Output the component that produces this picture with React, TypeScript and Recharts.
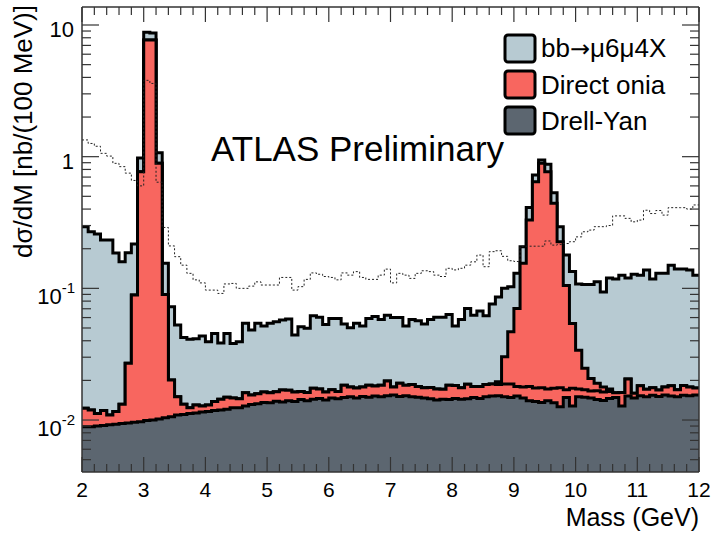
import React from "react";
import { ComposedChart, Area, Line, XAxis, YAxis } from "recharts";

// 100 MeV bins from 2.0 to 12.0 GeV, values in nb per bin
const binStart = 2.0;
const binWidth = 0.1;

const drellYan = [
  0.0089, 0.0089, 0.009, 0.0091, 0.0092, 0.0093, 0.0094, 0.0095, 0.0096, 0.0097,
  0.0099, 0.01, 0.0102, 0.0104, 0.0106, 0.0109, 0.011, 0.0112, 0.0113, 0.0115,
  0.0116, 0.0118, 0.0119, 0.0121, 0.0124, 0.0124, 0.0128, 0.0131, 0.0133, 0.0136,
  0.0135, 0.0139, 0.0137, 0.014, 0.0138, 0.0143, 0.014, 0.0144, 0.0146, 0.0142,
  0.0147, 0.0145, 0.0148, 0.015, 0.0147, 0.0151, 0.0149, 0.0152, 0.015, 0.0153,
  0.0155, 0.0151, 0.0153, 0.015, 0.0149, 0.0147, 0.0145, 0.0142, 0.0144, 0.0143,
  0.0146, 0.0144, 0.0145, 0.0148, 0.0146, 0.015, 0.0152, 0.0153, 0.015, 0.0148,
  0.0152, 0.0147, 0.014, 0.0138, 0.0136, 0.014, 0.0135, 0.0126, 0.0148, 0.0128,
  0.015, 0.0149, 0.0147, 0.0143, 0.0141, 0.0146, 0.0148, 0.0128, 0.0152, 0.0147,
  0.0153, 0.015, 0.0154, 0.0151, 0.0155, 0.0152, 0.015, 0.0154, 0.0153, 0.0155,
];

const jpsi = [
  0.0034, 0.003, 0.0022, 0.0027, 0.0017, 0.0023, 0.0038, 0.0175, 0.0794, 0.76,
  7.69, 7.69, 0.88, 0.0796, 0.0095, 0.0041, 0.0022, 0.0012, 0.0017, 0.0013,
  0.0014, 0.002, 0.0025, 0.0028, 0.0023, 0.0021, 0.0033, 0.0024, 0.0025, 0.0027,
  0.0026, 0.0025, 0.0032, 0.0028, 0.0025, 0.0022, 0.0022, 0.003, 0.0026, 0.0021,
  0.0023, 0.002, 0.0036, 0.0028, 0.0028, 0.0027, 0.0035, 0.0029, 0.0034, 0.0045,
  0.0023, 0.0039, 0.0031, 0.0036, 0.0031, 0.0029, 0.0032, 0.003, 0.0027, 0.0041,
  0.0037, 0.0032, 0.0042, 0.0032, 0.0034, 0.0036, 0.0036, 0.0033, 0.0038, 0.004,
  0.0028, 0.0031, 0.004, 0.0037, 0.004, 0.0032, 0.0039, 0.005, 0.0022, 0.0046,
  0.0022, 0.0021, 0.0019, 0.0024, 0.0022, 0.0019, 0.0013, 0.0034, 0.0053, 0.0013,
  0.0029, 0.0021, 0.0022, 0.0018, 0.0023, 0.003, 0.002, 0.0029, 0.0025, 0.002,
];

const upsilon = [
  0, 0, 0, 0, 0, 0, 0, 0, 0, 0,
  0, 0, 0, 0, 0, 0, 0, 0, 0, 0,
  0, 0, 0, 0, 0, 0, 0, 0, 0, 0,
  0, 0, 0, 0, 0, 0, 0, 0, 0, 0,
  0, 0, 0, 0, 0, 0, 0, 0, 0, 0,
  0, 0, 0, 0, 0, 0, 0, 0, 0, 0,
  0, 0, 0, 0, 0, 0, 0, 0.0009, 0.0115, 0.0281,
  0.0524, 0.137, 0.312, 0.628, 0.872, 0.751, 0.425, 0.208, 0.088, 0.0368,
  0.0167, 0.0077, 0.0041, 0.0023, 0.0015, 0.0007, 0, 0, 0, 0,
  0, 0, 0, 0, 0, 0, 0, 0, 0, 0,
];

const bbToMuMu = [
  0.282, 0.257, 0.247, 0.221, 0.222, 0.174, 0.146, 0.159, 0.128, 0.206,
  1.1, 1.0, 0.18, 0.065, 0.0524, 0.0376, 0.0292, 0.0286, 0.0285, 0.0306,
  0.0263, 0.0317, 0.0241, 0.0306, 0.0235, 0.0248, 0.0382, 0.0327, 0.0385, 0.0354,
  0.0382, 0.0394, 0.0406, 0.0417, 0.028, 0.0346, 0.0335, 0.0446, 0.0431, 0.0369,
  0.042, 0.0425, 0.0351, 0.0324, 0.0368, 0.0339, 0.0406, 0.0429, 0.0396, 0.0428,
  0.0422, 0.041, 0.0333, 0.0394, 0.0388, 0.0359, 0.0403, 0.0431, 0.0432, 0.045,
  0.0334, 0.0404, 0.0517, 0.0446, 0.0492, 0.0434, 0.0571, 0.0665, 0.0697, 0.0561,
  0.0596, 0.052, 0.082, 0.08, 0.052, 0.106, 0.09, 0.068, 0.074, 0.0798,
  0.0741, 0.0823, 0.0863, 0.093, 0.0762, 0.1028, 0.1019, 0.1098, 0.0995, 0.112,
  0.1078, 0.1209, 0.1004, 0.1131, 0.1122, 0.1318, 0.123, 0.1217, 0.1202, 0.1085,
];

// unlabelled dotted histogram
const dottedRef = [
  1.34, 1.26, 1.2, 1.06, 1.01, 0.89, 0.84, 0.75, 0.66, 0.6,
  3.8, 3.6, 0.64, 0.29, 0.21, 0.174, 0.15, 0.13, 0.116, 0.11,
  0.097, 0.097, 0.0915, 0.108, 0.109, 0.1, 0.1, 0.104, 0.112, 0.106,
  0.106, 0.106, 0.121, 0.121, 0.097, 0.103, 0.117, 0.131, 0.128, 0.123,
  0.121, 0.116, 0.131, 0.126, 0.134, 0.121, 0.117, 0.117, 0.126, 0.14,
  0.11, 0.13, 0.126, 0.119, 0.13, 0.136, 0.134, 0.126, 0.123, 0.142,
  0.138, 0.142, 0.15, 0.159, 0.179, 0.146, 0.19, 0.193, 0.175, 0.162,
  0.16, 0.209, 0.209, 0.209, 0.209, 0.229, 0.213, 0.215, 0.219, 0.226,
  0.246, 0.269, 0.277, 0.294, 0.294, 0.3, 0.355, 0.355, 0.34, 0.32,
  0.33, 0.392, 0.37, 0.39, 0.36, 0.41, 0.41, 0.41, 0.4, 0.43,
];

const legendItems = [
  { label: ["bb", "\u2192", "\u03bc6\u03bc4X"], color: "#b7cad2" },
  { label: ["Direct onia"], color: "#f8665f" },
  { label: ["Drell-Yan"], color: "#5c6670" },
];

const xMajorTicks = [2, 3, 4, 5, 6, 7, 8, 9, 10, 11, 12];
const yMajorTicks = [0.01, 0.1, 1, 10];

const W = 715;
const H = 534;
const Y_MIN = 0.00403;
const Y_MAX = 13.7;
const BLUE = legendItems[0].color;
const RED = legendItems[1].color;
const DARK = legendItems[2].color;
const FONT = "'Liberation Sans', Arial, Helvetica, sans-serif";
const FRAME = "#333";

// minor ticks every 0.2 GeV, and 2..9 in every decade
const xTicks: number[] = [];
for (let i = 0; i <= 50; i++) xTicks.push(Math.round((2 + i * 0.2) * 10) / 10);
const yTicks: number[] = [];
for (const d of [0.001, 0.01, 0.1, 1]) {
  for (let k = 1; k <= 9; k++) {
    const v = k === 1 ? d : +(k * d).toPrecision(3);
    if (v >= Y_MIN && v <= Y_MAX) yTicks.push(v);
  }
}
yTicks.push(10);

// stack the samples by hand so the log axis never sees a zero baseline
const data = drellYan.map((dy, i) => {
  const t1 = dy + jpsi[i];
  const t2 = t1 + upsilon[i];
  const t3 = t2 + bbToMuMu[i];
  return { m: Math.round((binStart + i * binWidth) * 10) / 10, dy, t1, t2, t3, ref: dottedRef[i] };
});
data.push({ ...data[data.length - 1], m: 12 });

const isXMajor = (v: number) => xMajorTicks.includes(v);
const isYMajor = (v: number) => yMajorTicks.includes(v);

function BottomTick({ x, y, payload }: any) {
  const major = isXMajor(payload.value);
  return (
    <g>
      <line x1={x} x2={x} y1={y} y2={y - (major ? 15 : 8)} stroke={FRAME} strokeWidth={1.2} />
      {major && (
        <text x={x} y={y + 25} textAnchor="middle" fontSize={21} fontFamily={FONT} fill="#000">
          {payload.value}
        </text>
      )}
    </g>
  );
}

function TopTick({ x, y, payload }: any) {
  const major = isXMajor(payload.value);
  return <line x1={x} x2={x} y1={y} y2={y + (major ? 15 : 8)} stroke={FRAME} strokeWidth={1.2} />;
}

function LeftTick({ x, y, payload }: any) {
  const v = payload.value;
  const major = isYMajor(v);
  let label = null;
  if (major && v >= 1) {
    label = (
      <text x={x - 8} y={y + 12} textAnchor="end" fontSize={22} fontFamily={FONT} fill="#000">
        {v}
      </text>
    );
  } else if (major) {
    const exp = Math.round(Math.log10(v));
    label = (
      <text x={x - 7} y={y + 16} textAnchor="end" fontSize={22} fontFamily={FONT} fill="#000">
        10
        <tspan dy={-11} fontSize={15}>{exp}</tspan>
      </text>
    );
  }
  return (
    <g>
      <line x1={x} x2={x + (major ? 17 : 9)} y1={y} y2={y} stroke={FRAME} strokeWidth={1.2} />
      {label}
    </g>
  );
}

function RightTick({ x, y, payload }: any) {
  const major = isYMajor(payload.value);
  return <line x1={x} x2={x - (major ? 17 : 9)} y1={y} y2={y} stroke={FRAME} strokeWidth={1.2} />;
}

const frameLine = { stroke: FRAME, strokeWidth: 1.5 };

export default function App() {
  return (
    <div style={{ position: "absolute", left: 0, top: 0, width: W, height: H, background: "#fff" }}>
      <ComposedChart width={W} height={H} data={data} margin={{ top: 6, right: 15, bottom: 61, left: 81 }}>
        <Area dataKey="t3" type="stepAfter" fill={BLUE} fillOpacity={1} stroke="#000" strokeWidth={3} isAnimationActive={false} />
        <Area dataKey="t2" type="stepAfter" fill={RED} fillOpacity={1} stroke="#000" strokeWidth={3} isAnimationActive={false} />
        <Area dataKey="t1" type="stepAfter" fill={RED} fillOpacity={1} stroke="#000" strokeWidth={3} isAnimationActive={false} />
        <Area dataKey="dy" type="stepAfter" fill={DARK} fillOpacity={1} stroke="#000" strokeWidth={3} isAnimationActive={false} />
        <Line
          dataKey="ref"
          type="stepAfter"
          stroke="#222"
          strokeWidth={1}
          strokeDasharray="2 2"
          dot={false}
          activeDot={false}
          isAnimationActive={false}
        />
        <XAxis
          dataKey="m"
          type="number"
          domain={[2, 12]}
          allowDataOverflow
          ticks={xTicks}
          interval={0}
          height={1}
          tickSize={0}
          tickMargin={0}
          tickLine={false}
          axisLine={frameLine}
          tick={BottomTick}
        />
        <XAxis
          xAxisId="top"
          orientation="top"
          dataKey="m"
          type="number"
          domain={[2, 12]}
          allowDataOverflow
          ticks={xTicks}
          interval={0}
          height={1}
          tickSize={0}
          tickMargin={0}
          tickLine={false}
          axisLine={frameLine}
          tick={TopTick}
        />
        <YAxis
          scale="log"
          type="number"
          domain={[Y_MIN, Y_MAX]}
          allowDataOverflow
          ticks={yTicks}
          interval={0}
          width={1}
          tickSize={0}
          tickMargin={0}
          tickLine={false}
          axisLine={frameLine}
          tick={LeftTick}
        />
        <YAxis
          yAxisId="right"
          orientation="right"
          scale="log"
          type="number"
          domain={[Y_MIN, Y_MAX]}
          allowDataOverflow
          ticks={yTicks}
          interval={0}
          width={1}
          tickSize={0}
          tickMargin={0}
          tickLine={false}
          axisLine={frameLine}
          tick={RightTick}
        />
      </ComposedChart>
      <svg width={W} height={H} style={{ position: "absolute", left: 0, top: 0, pointerEvents: "none" }}>
        <text x={211} y={161} fontSize={35} fontFamily={FONT} fill="#000">
          ATLAS Preliminary
        </text>
        {legendItems.map((item, i) => (
          <g key={item.label.join("")}>
            <rect x={505} y={35 + i * 36} width={30} height={27} rx={3} fill={item.color} stroke="#000" strokeWidth={3} />
            <text x={541} y={57 + i * 36.5} fontSize={26} fontFamily={FONT} fill="#000">
              {item.label.map((part, j) =>
                part === "\u2192" ? (
                  <tspan key={j} fontFamily="'DejaVu Sans'" fontSize={24}>
                    {part}
                  </tspan>
                ) : (
                  <tspan key={j}>{part}</tspan>
                )
              )}
            </text>
          </g>
        ))}
        <text x={699} y={526} textAnchor="end" fontSize={25} fontFamily={FONT} fill="#000">
          Mass (GeV)
        </text>
        <text transform="translate(32,5) rotate(-90)" textAnchor="end" fontSize={26} fontFamily={FONT} fill="#000">
          d{"\u03c3"}/dM [nb/(100 MeV)]
        </text>
      </svg>
    </div>
  );
}
